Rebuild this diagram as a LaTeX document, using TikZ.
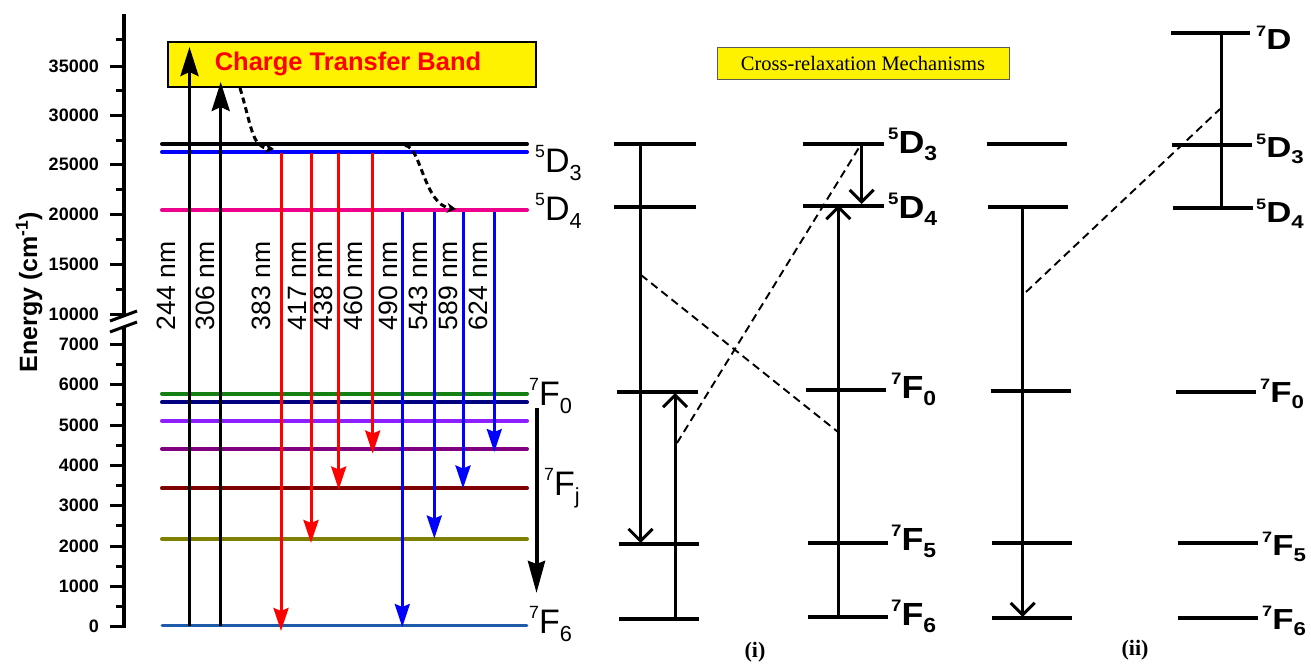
\documentclass[tikz,border=0pt]{standalone}
\usepackage{fontspec}
\setmainfont{Liberation Sans}
\newfontfamily\serif{Liberation Serif}
\usepackage{graphicx}
\usetikzlibrary{arrows.meta}
\newcommand\trm[3]{\raisebox{.42em}{\scalebox{.52}{#1}}#2\raisebox{-.24em}{\scalebox{.64}{#3}}}
\newcommand\trmI[3]{\scalebox{1.12}[1]{\trm{#1}{#2}{#3}}}
\newcommand\trmII[3]{\scalebox{1.2}[1]{\trm{#1}{#2}{#3}}}
\definecolor{lgreen}{RGB}{20,128,20}
\definecolor{lnavy}{RGB}{0,0,128}
\definecolor{lviolet}{RGB}{140,30,255}
\definecolor{lpurple}{RGB}{128,0,128}
\definecolor{ldred}{RGB}{128,0,0}
\definecolor{lolive}{RGB}{128,128,0}
\definecolor{lsteel}{RGB}{30,90,170}
\definecolor{boxgray}{RGB}{90,90,90}
\tikzset{
  lvl/.style={line width=4pt, line cap=round},
  ax/.style={line width=3.5pt},
  tickmark/.style={line width=3pt},
  ticklab/.style={anchor=east, inner sep=0pt, font=\fontsize{18}{18}\selectfont\bfseries},
  uparr/.style={line width=3.5pt, -{Stealth[length=29pt,width=18pt,inset=4pt]}},
  emarr/.style={line width=3pt, -{Stealth[length=23pt,width=15pt,inset=3pt]}},
  nmlab/.style={rotate=90, inner sep=0pt, font=\fontsize{26.5}{26.5}\selectfont},
  plev/.style={line width=4pt},
  pvert/.style={line width=3pt},
  barb/.style={-{Straight Barb[length=12pt,width=24pt,line width=3pt]}},
  xdash/.style={line width=1.9pt, dash pattern=on 8pt off 5pt},
  nrdash/.style={line width=3pt, dash pattern=on 6pt off 4pt, -{Stealth[length=9pt,width=10pt]}},
  termL/.style={anchor=base west, inner sep=0pt, font=\fontsize{34}{34}\selectfont},
  termI/.style={anchor=base west, inner sep=0pt, font=\fontsize{32}{32}\selectfont\bfseries},
  termII/.style={anchor=base west, inner sep=0pt, font=\fontsize{29}{29}\selectfont\bfseries},
  caplab/.style={inner sep=0pt, font=\fontsize{22}{22}\selectfont\serif\bfseries},
}
\begin{document}
\begin{tikzpicture}[x=1pt,y=-1pt]
\useasboundingbox (0,0) rectangle (1311,664);
\fill[white] (0,0) rectangle (1311,664);

% ---------------- axis ----------------
\coordinate (axT) at (124,14);
\coordinate (axM1) at (124,316);
\coordinate (axM2) at (124,327);
\coordinate (axB) at (124,628);
\draw[ax] (axT) -- (axM1);
\draw[ax] (axM2) -- (axB);
\draw[line width=3pt] (110,321) -- (137,311);
\draw[line width=3pt] (110,332) -- (137,322);
\foreach \v/\y in {35000/66,30000/115.3,25000/164.7,20000/214.3,15000/264.3,10000/314}{
  \draw[tickmark] (110,\y) -- (124,\y);
  \node[ticklab] (t\v) at (99,\y) {\v};
}
\foreach \y in {39.3,90.6,140,189.5,239.3,289}{
  \draw[tickmark] (116,\y) -- (124,\y);
}
\foreach \k in {0,...,7}{
  \pgfmathsetmacro\yy{626.7-40.33*\k}
  \pgfmathtruncatemacro\lab{1000*\k}
  \draw[tickmark] (110,\yy) -- (124,\yy);
  \node[ticklab] (tl\k) at (99,\yy) {\lab};
}
\foreach \k in {0,...,6}{
  \pgfmathsetmacro\yy{626.7-40.33*\k-20.17}
  \draw[tickmark] (116,\yy) -- (124,\yy);
}
\node[rotate=90, anchor=base, inner sep=0pt, font=\fontsize{25}{25}\selectfont\bfseries] (elab) at (37,292) {Energy (cm\textsuperscript{-1})};

% ---------------- charge transfer band ----------------
\node[draw, line width=1.8pt, fill=yellow, minimum width=368pt, minimum height=45pt, inner sep=0pt] (ctb) at (352,64.5) {};
\node[text=red, inner sep=0pt, font=\fontsize{25.5}{25.5}\selectfont\bfseries] (ctbt) at (348,63.5) {Charge Transfer Band};

% ---------------- levels ----------------
\draw[lvl, black]   (162,144)   -- (527,144);
\draw[lvl, blue]    (162,152)   -- (527,152);
\draw[lvl, magenta] (162,210)   -- (527,210);
\draw[lvl, lgreen]  (162,393.5) -- (527,393.5);
\draw[lvl, lnavy]   (162,402.3) -- (527,402.3);
\draw[lvl, lviolet] (162,420.7) -- (527,420.7);
\draw[lvl, lpurple] (162,449)   -- (527,449);
\draw[lvl, ldred]   (162,488.3) -- (527,488.3);
\draw[lvl, lolive]  (162,539)   -- (527,539);
\draw[line width=2.8pt, line cap=round, lsteel] (162,625.8) -- (527,625.8);

% ---------------- non-radiative dashed ----------------
\coordinate (nr1s) at (240,88);
\coordinate (nr1e) at (274,149);
\coordinate (nr2s) at (405,145.5);
\coordinate (nr2e) at (456,209);
\draw[nrdash] (nr1s) .. controls (252,128) and (252,147) .. (nr1e);
\draw[nrdash] (nr2s) .. controls (421,146) and (424,205) .. (nr2e);

% ---------------- excitation ----------------
\coordinate (a244s) at (189.5,626); \coordinate (a244e) at (189.5,47);
\coordinate (a306s) at (220.7,626); \coordinate (a306e) at (220.7,82);
\draw[uparr] (a244s) -- (a244e);
\draw[uparr] (a306s) -- (a306e);

% ---------------- emissions ----------------
\coordinate (r383s) at (281,152.7);  \coordinate (r383e) at (281,631);
\coordinate (r417s) at (311,152.7);  \coordinate (r417e) at (311,543);
\coordinate (r438s) at (338.7,152.7);\coordinate (r438e) at (338.7,489.5);
\coordinate (r460s) at (372.7,152.7);\coordinate (r460e) at (372.7,453.5);
\coordinate (b490s) at (402.3,211.5);\coordinate (b490e) at (402.3,627);
\coordinate (b543s) at (434.3,211.5);\coordinate (b543e) at (434.3,538.5);
\coordinate (b589s) at (463,211.5);  \coordinate (b589e) at (463,488.5);
\coordinate (b624s) at (494.3,211.5);\coordinate (b624e) at (494.3,452);
\draw[emarr, red]  (r383s) -- (r383e);
\draw[emarr, red]  (r417s) -- (r417e);
\draw[emarr, red]  (r438s) -- (r438e);
\draw[emarr, red]  (r460s) -- (r460e);
\draw[emarr, blue] (b490s) -- (b490e);
\draw[emarr, blue] (b543s) -- (b543e);
\draw[emarr, blue] (b589s) -- (b589e);
\draw[emarr, blue] (b624s) -- (b624e);

\node[nmlab] (l244) at (166.7,286) {244 nm};
\node[nmlab] (l306) at (205,286) {306 nm};
\node[nmlab] (l383) at (261.7,286) {383 nm};
\node[nmlab] (l417) at (297,286) {417 nm};
\node[nmlab] (l438) at (323.5,286) {438 nm};
\node[nmlab] (l460) at (353,286) {460 nm};
\node[nmlab] (l490) at (388,286) {490 nm};
\node[nmlab] (l543) at (418,286) {543 nm};
\node[nmlab] (l589) at (448,286) {589 nm};
\node[nmlab] (l624) at (478,286) {624 nm};

% 7Fj relaxation arrow
\coordinate (fjs) at (536.5,408);
\coordinate (fje) at (536.5,593);
\draw[line width=4pt, -{Stealth[length=32pt,width=17pt,inset=3pt]}] (fjs) -- (fje);

% left terms
\node[termL] (tD3) at (535,172) {\trm{5}{D}{3}};
\node[termL] (tD4) at (535,220) {\trm{5}{D}{4}};
\node[termL] (tF0) at (529,405) {\trm{7}{F}{0}};
\node[termL] (tFj) at (544,495) {\trm{7}{F}{j}};
\node[termL] (tF6) at (529,633) {\trm{7}{F}{6}};

% ---------------- cross relaxation box ----------------
\node[draw=boxgray, line width=1pt, fill=yellow, minimum width=292pt, minimum height=32pt, inner sep=0pt,
      font=\fontsize{20.5}{20.5}\selectfont\serif] (crm) at (863,63) {Cross-relaxation Mechanisms};

% ---------------- panel (i) ----------------
\draw[plev] (614,144.3) -- (696,144.3);
\draw[plev] (614,207.3) -- (696,207.3);
\draw[plev] (617,391.7) -- (698,391.7);
\draw[plev] (619,544.3) -- (699,544.3);
\draw[plev] (619,619)   -- (699,619);
\coordinate (iA1s) at (640.5,144.3); \coordinate (iA1e) at (640.5,543);
\coordinate (iA2s) at (675,619);     \coordinate (iA2e) at (675,393);
\draw[pvert, barb] (iA1s) -- (iA1e);
\draw[pvert, barb] (iA2s) -- (iA2e);

\draw[plev] (803,143.5) -- (884,143.5);
\draw[plev] (803,205.5) -- (884,205.5);
\draw[plev] (806,389.5) -- (886,389.5);
\draw[plev] (808,542.7) -- (888,542.7);
\draw[plev] (808,617.3) -- (888,617.3);
\coordinate (iB1s) at (838.3,617.3); \coordinate (iB1e) at (838.3,205);
\coordinate (iB2s) at (861.7,143.5); \coordinate (iB2e) at (861.7,204);
\draw[pvert, barb] (iB1s) -- (iB1e);
\draw[pvert, barb] (iB2s) -- (iB2e);

\coordinate (id1s) at (677,443); \coordinate (id1e) at (860,146);
\coordinate (id2s) at (641,275); \coordinate (id2e) at (838,432);
\draw[xdash] (id1s) -- (id1e);
\draw[xdash] (id2s) -- (id2e);

\node[termI] (iD3) at (888,153) {\trmI{5}{D}{3}};
\node[termI] (iD4) at (888,218) {\trmI{5}{D}{4}};
\node[termI] (iF0) at (891,398) {\trmI{7}{F}{0}};
\node[termI] (iF5) at (891,550) {\trmI{7}{F}{5}};
\node[termI] (iF6) at (891,625) {\trmI{7}{F}{6}};
\node[caplab] (capi) at (755,652) {(i)};

% ---------------- panel (ii) ----------------
\draw[plev] (987,144)   -- (1067,144);
\draw[plev] (988,206.7) -- (1068,206.7);
\draw[plev] (991,390.5) -- (1071,390.5);
\draw[plev] (992,543.4) -- (1072,543.4);
\draw[plev] (992,618.4) -- (1072,618.4);
\coordinate (iiCs) at (1022.7,206.7); \coordinate (iiCe) at (1022.7,617);
\draw[pvert, barb] (iiCs) -- (iiCe);

\draw[plev] (1171,32.6)  -- (1250,32.6);
\draw[plev] (1172,145)   -- (1252,145);
\draw[plev] (1173,207.5) -- (1253,207.5);
\draw[plev] (1176,391.8) -- (1256,391.8);
\draw[plev] (1178,543.4) -- (1258,543.4);
\draw[plev] (1178,618.4) -- (1258,618.4);
\coordinate (iiDs) at (1221,32.6); \coordinate (iiDe) at (1221,207.5);
\draw[pvert] (iiDs) -- (iiDe);

\coordinate (iids) at (1026,292); \coordinate (iide) at (1220,109);
\draw[xdash] (iids) -- (iide);

\node[termII] (iiD7) at (1256,49)  {\scalebox{1.2}[1]{\raisebox{.42em}{\scalebox{.52}{7}}D}};
\node[termII] (iiD3) at (1256,157) {\trmII{5}{D}{3}};
\node[termII] (iiD4) at (1256,222) {\trmII{5}{D}{4}};
\node[termII] (iiF0) at (1260,402) {\trmII{7}{F}{0}};
\node[termII] (iiF5) at (1262,555) {\trmII{7}{F}{5}};
\node[termII] (iiF6) at (1262,629) {\trmII{7}{F}{6}};
\node[caplab] (capii) at (1135,650) {(ii)};
\end{tikzpicture}
\end{document}
